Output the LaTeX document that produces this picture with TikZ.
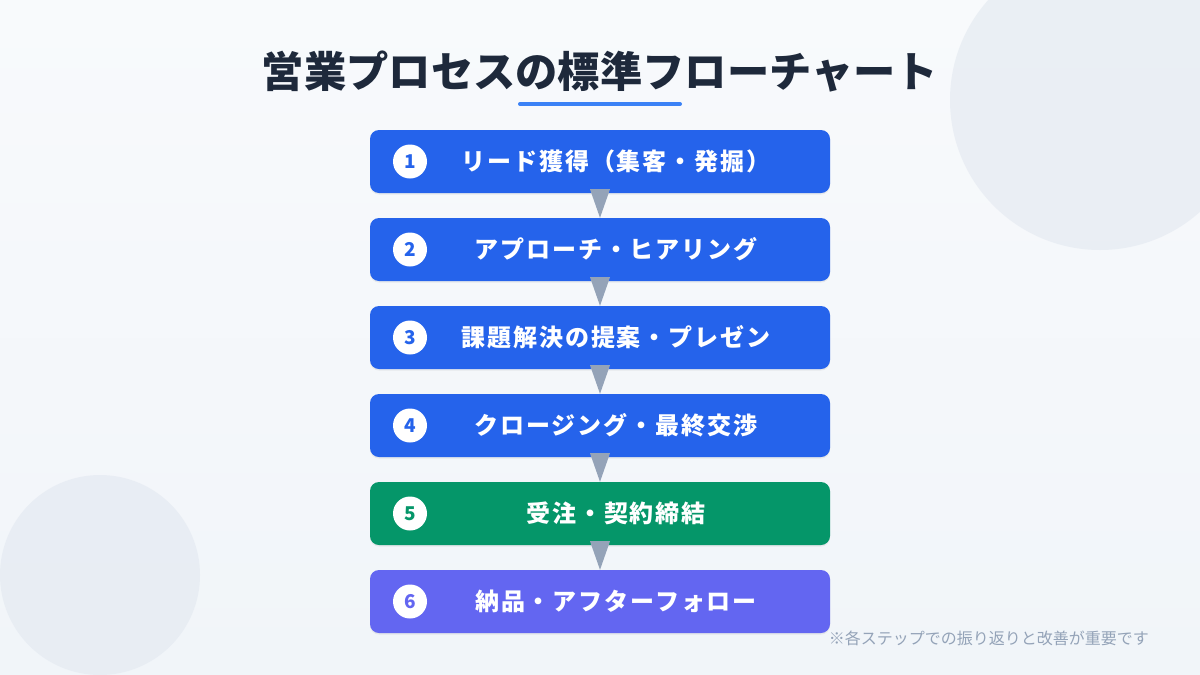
\documentclass[tikz,border=0pt]{standalone}
\usepackage{fontspec}
\setmainfont{Noto Sans CJK JP}
\newfontfamily\labelfont{Noto Sans CJK JP}[LetterSpace=8]
\usetikzlibrary{shadows}
\definecolor{bgtop}{HTML}{F8FAFC}
\definecolor{bgbot}{HTML}{F1F5F9}
\definecolor{deco}{HTML}{E2E8F0}
\definecolor{titlec}{HTML}{1E293B}
\definecolor{accent}{HTML}{3B82F6}
\definecolor{bluebox}{HTML}{2563EB}
\definecolor{greenbox}{HTML}{059669}
\definecolor{purplebox}{HTML}{6366F1}
\definecolor{arrowc}{HTML}{94A3B8}
\definecolor{notec}{HTML}{94A3B8}
\tikzset{
  stepbox/.style={rounded corners=9pt, minimum width=460pt, minimum height=63pt, inner sep=0pt,
    drop shadow={shadow xshift=0pt, shadow yshift=-1.5pt, opacity=0.12}},
  numcirc/.style={circle, fill=white, minimum size=34pt, inner sep=0pt, font=\bfseries\fontsize{19}{19}\selectfont},
  steplabel/.style={text=white, font=\labelfont\bfseries\fontsize{24}{24}\selectfont, inner sep=0pt},
  flowtri/.style={fill=arrowc},
}
\begin{document}
\begin{tikzpicture}[x=1pt,y=-1pt]
\useasboundingbox (0,0) rectangle (1200,675);
\shade[top color=bgtop, bottom color=bgbot] (0,0) rectangle (1200,675);
\begin{scope}
\clip (0,0) rectangle (1200,675);
\fill[deco, opacity=0.6] (1100,100) circle[radius=150];
\fill[deco, opacity=0.6] (100,575) circle[radius=100];
\end{scope}
% title
\node[text=titlec, font=\bfseries\fontsize{42.3}{42.3}\selectfont, inner sep=0pt] (title) at (600,72) {営業プロセスの標準フローチャート};
\draw[accent, line width=4pt, line cap=round] (520,104) -- (680,104);
% boxes
\foreach \i/\c/\t in {1/bluebox/リード獲得（集客・発掘）, 2/bluebox/アプローチ・ヒアリング, 3/bluebox/課題解決の提案・プレゼン, 4/bluebox/クロージング・最終交渉, 5/greenbox/受注・契約締結, 6/purplebox/納品・アフターフォロー}{
  \pgfmathsetmacro{\yy}{161.5+88*(\i-1)}
  \node[stepbox, fill=\c] (s\i) at (600,\yy) {};
  \node[numcirc, text=\c] (n\i) at (410,\yy) {\i};
  \node[steplabel] (l\i) at (616,\yy) {\t};
}
% arrows
\foreach \a/\b in {1/2,2/3,3/4,4/5,5/6}{
  \fill[flowtri] ([xshift=-10pt,yshift=4pt]s\a.south) -- ([xshift=10pt,yshift=4pt]s\a.south) -- (s\b.north) -- cycle;
}
% note
\node[text=notec, font=\fontsize{16}{16}\selectfont, anchor=east, inner sep=0pt] (note) at (1149,638) {※各ステップでの振り返りと改善が重要です};
\end{tikzpicture}
\end{document}
